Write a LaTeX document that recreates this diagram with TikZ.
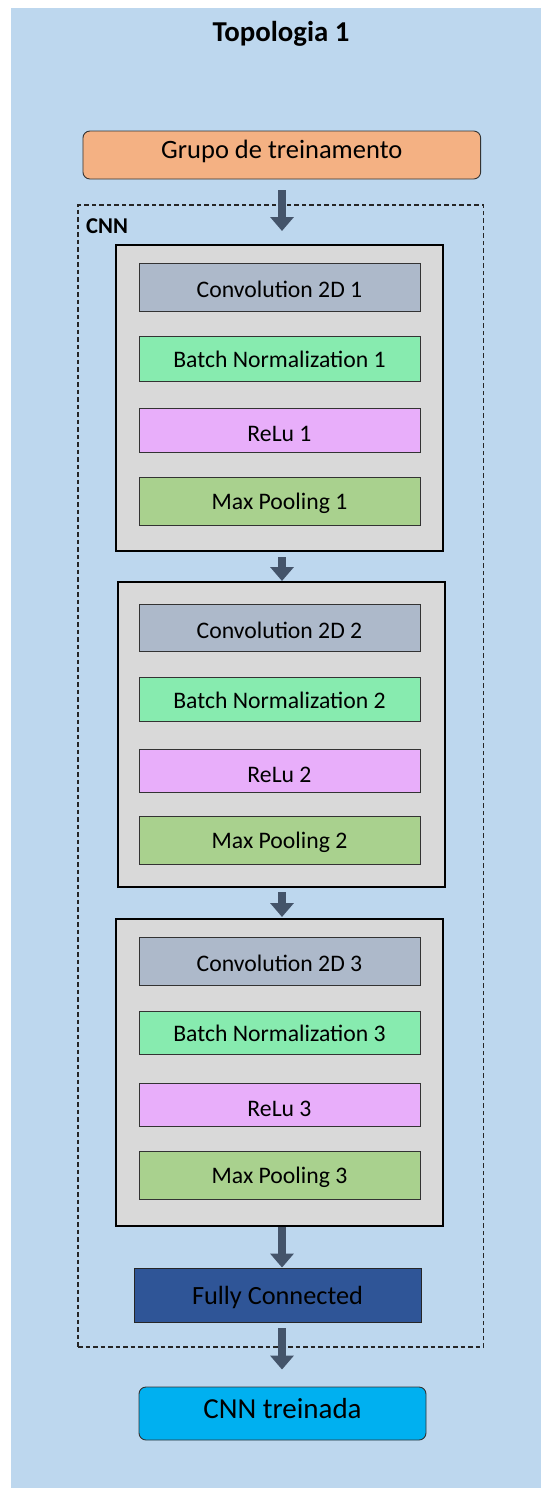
\documentclass[tikz,border=0pt]{standalone}
\usepackage{fontspec}
\setmainfont{Carlito}
\usetikzlibrary{arrows.meta}

\definecolor{bgblue}{HTML}{BDD7EE}
\definecolor{inputorange}{HTML}{F4B183}
\definecolor{blockgray}{HTML}{D9D9D9}
\definecolor{convcol}{HTML}{ADB9CA}
\definecolor{bncol}{HTML}{87EBAF}
\definecolor{relucol}{HTML}{E8AEFA}
\definecolor{poolcol}{HTML}{A9D18E}
\definecolor{fccol}{HTML}{2F5597}
\definecolor{outcol}{HTML}{00B0F0}
\definecolor{arrowcol}{HTML}{44546A}

\tikzset{
  box/.style={draw=black!80, line width=0.9pt, inner sep=0pt, outer sep=0pt,
    font=\fontsize{23.7}{28}\selectfont, minimum width=281pt},
  block/.style={draw=black, line width=1.15pt, fill=blockgray, inner sep=0pt,
    outer sep=0pt, minimum width=327pt},
  convbox/.style={box, fill=convcol, text height=21pt, text depth=0pt},
  bnbox/.style={box, fill=bncol, text height=18.4pt, text depth=0pt},
  relubox/.style={box, fill=relucol, text height=23pt, text depth=0pt},
  poolbox/.style={box, fill=poolcol, text height=17pt, text depth=0pt},
  flow/.style={draw=arrowcol, line width=8pt,
    -{Triangle[width=23pt,length=14pt]}},
}

\begin{document}
\begin{tikzpicture}[x=1pt, y=-1pt]
  \useasboundingbox (0,0) rectangle (541,1488);
  % backdrop
  \fill[bgblue] (11,8) rectangle (541,1488);

  % title
  \node[anchor=base, inner sep=0pt, font=\fontsize{28.8}{33}\selectfont\bfseries]
    (title) at (281,41.7) {Topologia 1};

  % input data
  \node[draw=black!80, line width=0.9pt, fill=inputorange, rounded corners=7pt,
    inner sep=0pt, minimum width=397.7pt, minimum height=48pt,
    text height=6.6pt, text depth=0pt, font=\fontsize{26.5}{30}\selectfont]
    (train) at (281.8,155) {Grupo de treinamento};

  % CNN frame
  \node[draw=black!85, line width=1.2pt, dash pattern=on 4.5pt off 3pt,
    inner sep=0pt, minimum width=405.5pt, minimum height=1142pt]
    (cnn) at (280.75,776) {};
  \node[anchor=base west, inner sep=0pt, font=\fontsize{22.6}{26}\selectfont\bfseries]
    (cnnlabel) at (86,233) {CNN};

  % block 1
  \node[block, minimum height=306pt] (b1) at (279.5,398) {};
  \node[convbox, minimum height=48pt] (c1) at (279.5,287) {Convolution 2D 1};
  \node[bnbox, minimum height=45pt] (n1) at (279.5,358.5) {Batch Normalization 1};
  \node[relubox, minimum height=44pt] (r1) at (279.5,430) {ReLu 1};
  \node[poolbox, minimum height=48pt] (p1) at (279.5,501) {Max Pooling 1};

  % block 2
  \node[block, minimum height=305pt] (b2) at (281.5,734.5) {};
  \node[convbox, minimum height=47pt] (c2) at (279.5,627.5) {Convolution 2D 2};
  \node[bnbox, minimum height=44pt] (n2) at (279.5,699) {Batch Normalization 2};
  \node[relubox, minimum height=43pt] (r2) at (279.5,770.5) {ReLu 2};
  \node[poolbox, minimum height=48pt] (p2) at (279.5,840) {Max Pooling 2};

  % block 3
  \node[block, minimum height=307pt] (b3) at (279.5,1072.5) {};
  \node[convbox, minimum height=48pt] (c3) at (279.5,961) {Convolution 2D 3};
  \node[bnbox, minimum height=43pt] (n3) at (279.5,1032.5) {Batch Normalization 3};
  \node[relubox, minimum height=43pt] (r3) at (279.5,1104.5) {ReLu 3};
  \node[poolbox, minimum height=48pt] (p3) at (279.5,1175) {Max Pooling 3};

  % dense layer
  \node[draw=black!85, line width=0.9pt, fill=fccol, inner sep=0pt,
    minimum width=287pt, minimum height=54pt, text height=18pt, text depth=0pt,
    font=\fontsize{26.3}{30}\selectfont] (fc) at (277.5,1295) {Fully Connected};

  % trained network
  \node[draw=black!80, line width=0.9pt, fill=outcol, rounded corners=7pt,
    inner sep=0pt, minimum width=287pt, minimum height=53pt,
    text height=9.6pt, text depth=0pt, font=\fontsize{29}{33}\selectfont]
    (trained) at (282.5,1413.5) {CNN treinada};

  % flow arrows
  \coordinate (ax) at (282,0);
  \draw[flow, shorten <=11pt, shorten >=14pt] (train.south -| ax) -- (b1.north -| ax);
  \draw[flow, shorten <=6pt, shorten >=1pt] (b1.south -| ax) -- (b2.north -| ax);
  \draw[flow, shorten <=5pt, shorten >=2pt] (b2.south -| ax) -- (b3.north -| ax);
  \draw[flow, shorten <=1pt] (b3.south -| ax) -- (fc.north -| ax);
  \draw[flow, shorten <=6pt, shorten >=17pt] (fc.south -| ax) -- (trained.north -| ax);
\end{tikzpicture}
\end{document}
